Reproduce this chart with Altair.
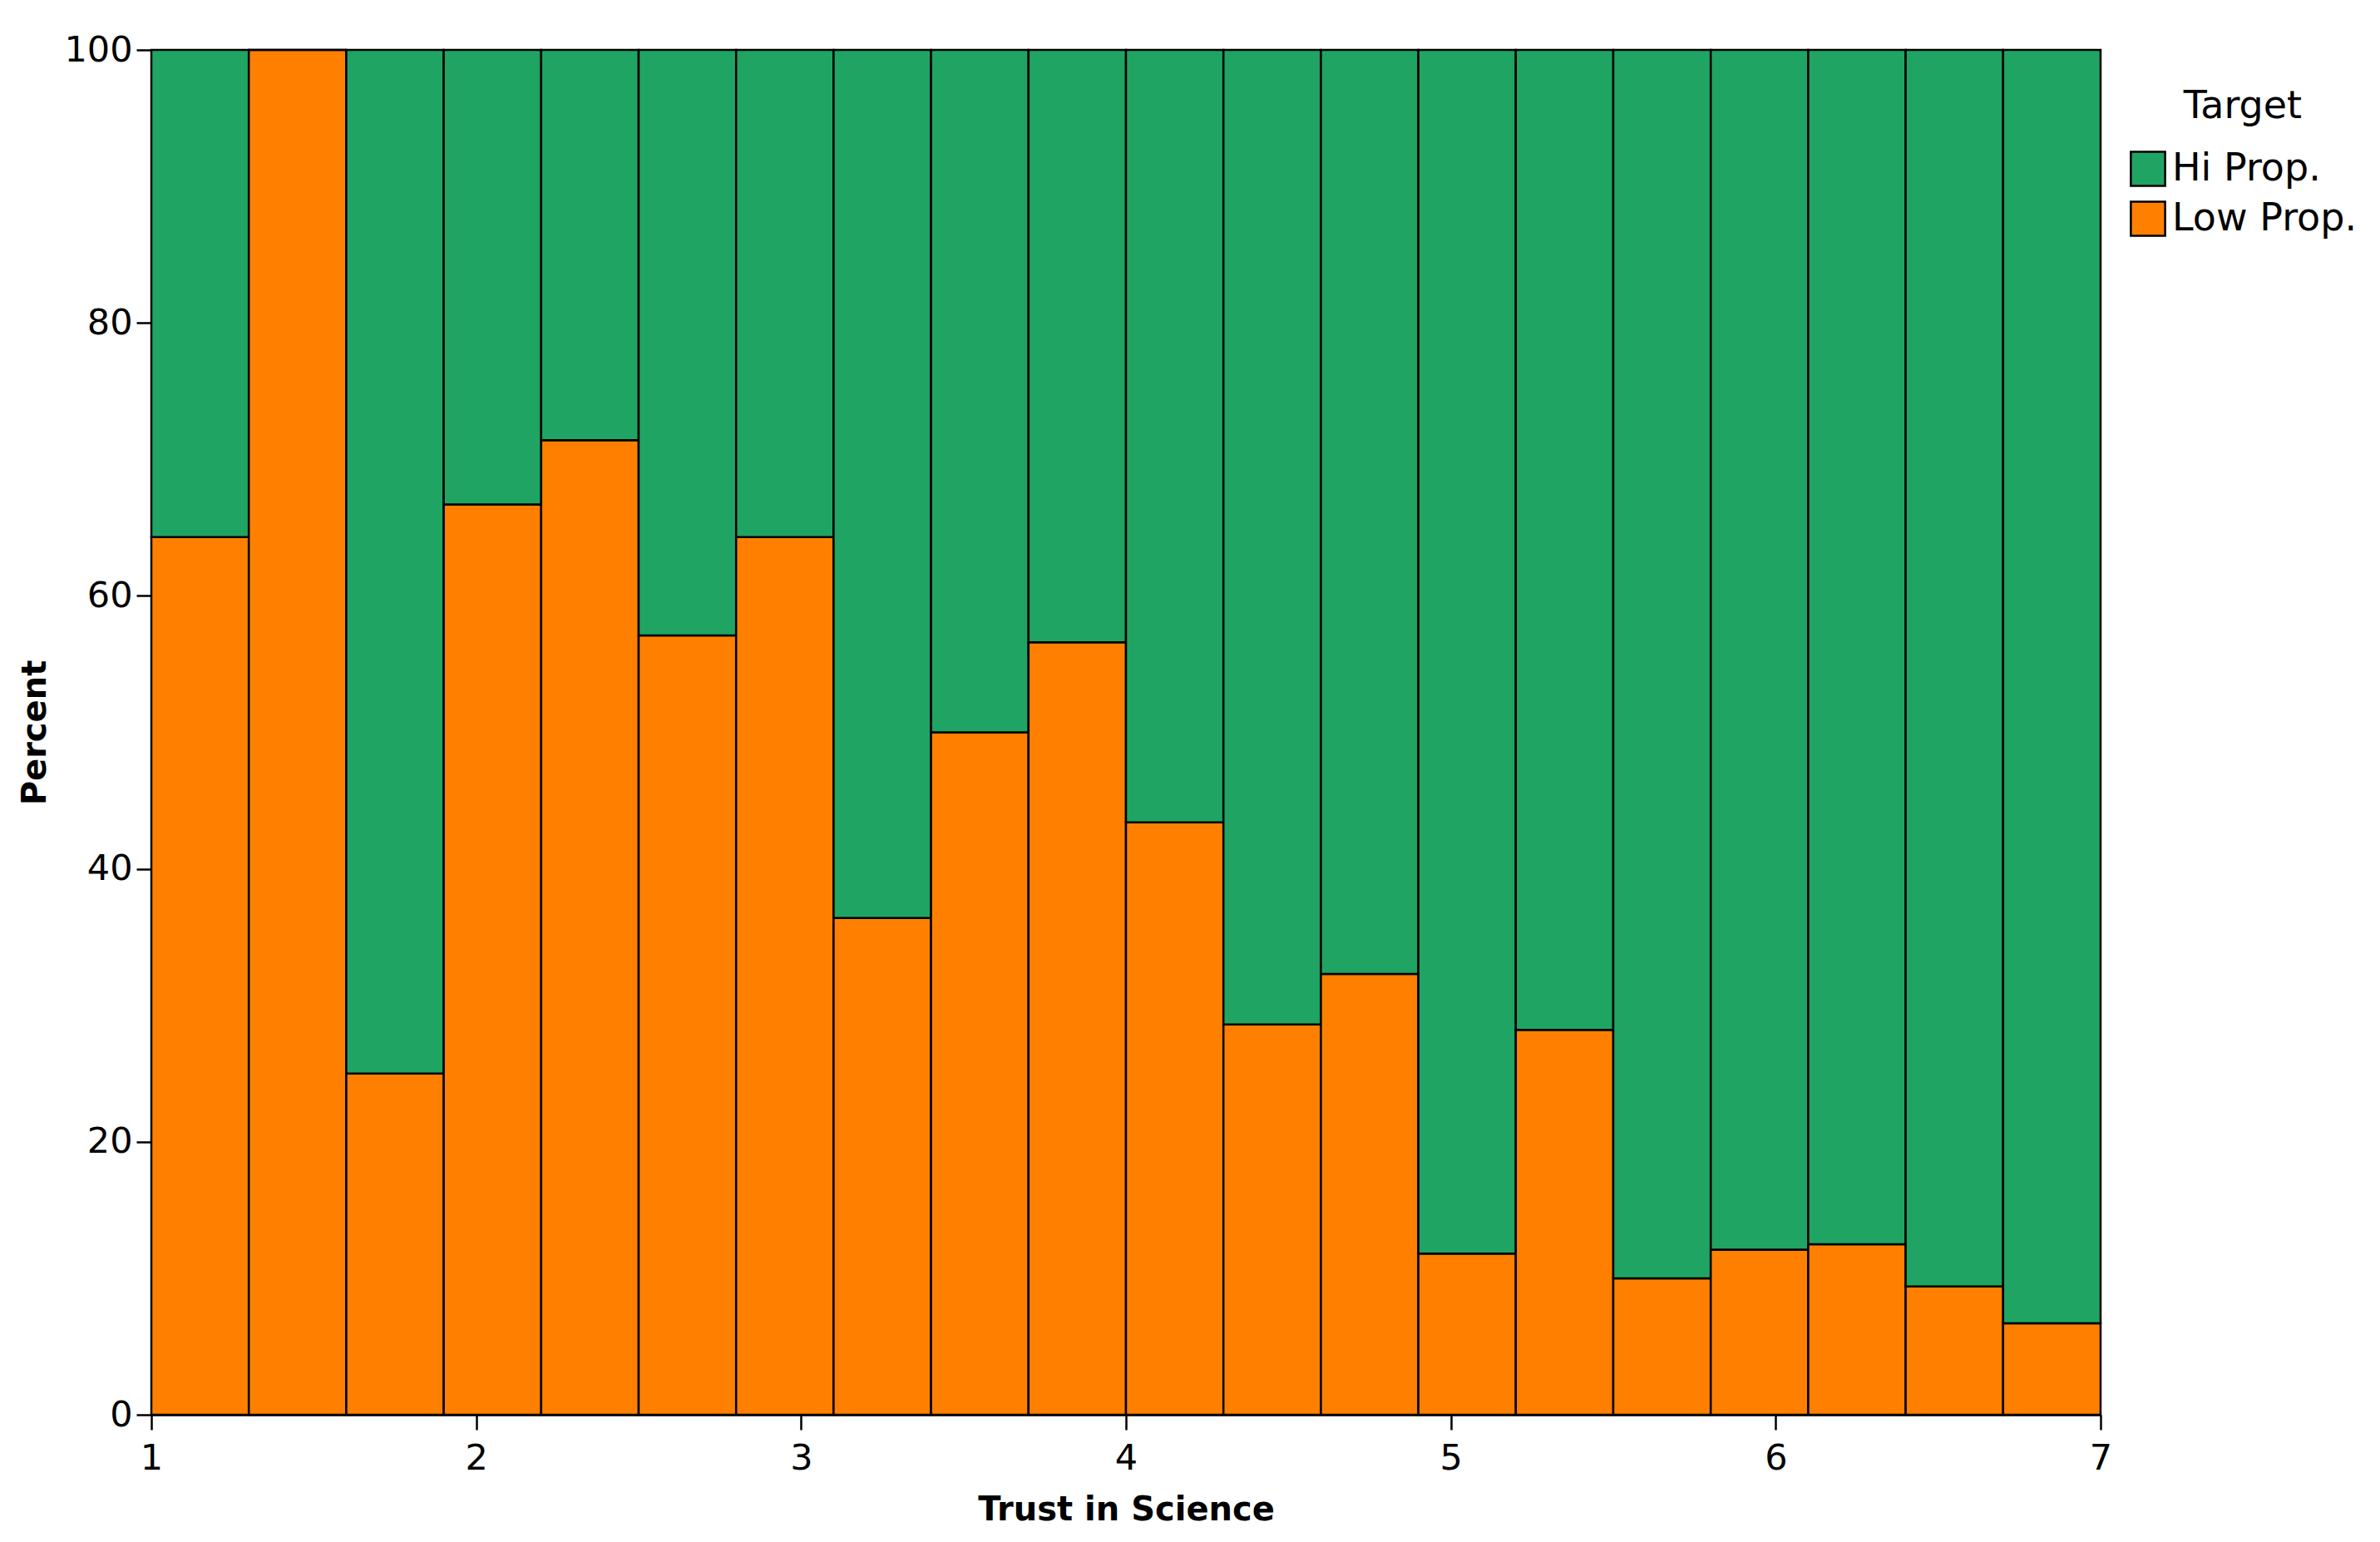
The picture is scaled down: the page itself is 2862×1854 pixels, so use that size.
import altair as alt
import pandas as pd

# Bin start values (Trust in Science), each bin 0.3 wide
bin_start = [1.0, 1.3, 1.6, 1.9, 2.2, 2.5, 2.8, 3.1, 3.4, 3.7,
             4.0, 4.3, 4.6, 4.9, 5.2, 5.5, 5.8, 6.1, 6.4, 6.7]
bin_end = [1.3, 1.6, 1.9, 2.2, 2.5, 2.8, 3.1, 3.4, 3.7, 4.0,
           4.3, 4.6, 4.9, 5.2, 5.5, 5.8, 6.1, 6.4, 6.7, 7.0]
# Percent of "Low Prop." in each bin; "Hi Prop." is the remainder
low_pct = [64.3, 100.0, 25.0, 66.7, 71.4, 57.1, 64.3, 36.4, 50.0, 56.6,
           43.4, 28.6, 32.3, 11.8, 28.2, 10.0, 12.1, 12.5, 9.4, 6.7]
hi_pct = [35.7, 0.0, 75.0, 33.3, 28.6, 42.9, 35.7, 63.6, 50.0, 43.4,
          56.6, 71.4, 67.7, 88.2, 71.8, 90.0, 87.9, 87.5, 90.6, 93.3]
series = ["Hi Prop.", "Low Prop."]
colors = ["#20A464", "#FF8000"]

rows = []
for s, e, lo, hi in zip(bin_start, bin_end, low_pct, hi_pct):
    rows.append({"x": s, "x2": e, "Target": "Low Prop.", "y0": 0.0, "y1": lo})
    rows.append({"x": s, "x2": e, "Target": "Hi Prop.", "y0": lo, "y1": lo + hi})
df = pd.DataFrame(rows)

FONT = "DejaVu Sans"

chart = alt.Chart(df).mark_bar(stroke="black", strokeWidth=2.5, opacity=1).encode(
    x=alt.X("x:Q", scale=alt.Scale(domain=[1, 7], nice=False, zero=False),
            axis=alt.Axis(title="Trust in Science", values=[1, 2, 3, 4, 5, 6, 7],
                          format="d", grid=False, domainColor="black", tickColor="black",
                          tickSize=18, tickWidth=2.5, domainWidth=2.5, labelFlush=False,
                          labelFont=FONT, labelFontSize=43, labelColor="black",
                          labelPadding=13, titleFont=FONT, titleFontSize=40,
                          titleFontWeight="bold", titleColor="black", titlePadding=20)),
    x2="x2:Q",
    y=alt.Y("y0:Q", scale=alt.Scale(domain=[0, 100], nice=False),
            axis=alt.Axis(title="Percent", values=[0, 20, 40, 60, 80, 100],
                          grid=False, domainColor="black", tickColor="black",
                          tickSize=18, tickWidth=2.5, domainWidth=2.5, labelFlush=False,
                          labelFont=FONT, labelFontSize=43, labelColor="black",
                          labelPadding=5, titleFont=FONT, titleFontSize=40,
                          titleFontWeight="bold", titleColor="black", titlePadding=14)),
    y2="y1:Q",
    color=alt.Color("Target:N", scale=alt.Scale(domain=series, range=colors),
                    legend=alt.Legend(title="Target", orient="none", legendX=2378, legendY=46,
                                      symbolType="square", symbolSize=1700,
                                      symbolStrokeColor="black", symbolStrokeWidth=2.5,
                                      symbolOpacity=1, labelLimit=0,
                                      labelFont=FONT, labelFontSize=46, labelColor="black",
                                      titleFont=FONT, titleFontSize=46, titleFontWeight="normal",
                                      titleColor="black", titleAnchor="middle",
                                      titlePadding=28, rowPadding=8, labelOffset=6)),
).properties(
    width=2344, height=1641,
    autosize=alt.AutoSizeParams(type="none"),
    padding={"left": 174, "top": 52, "right": 320, "bottom": 140},
).configure_view(stroke=None).configure(background="white")

chart.save("out.html", embed_options={"renderer": "svg", "actions": False})
